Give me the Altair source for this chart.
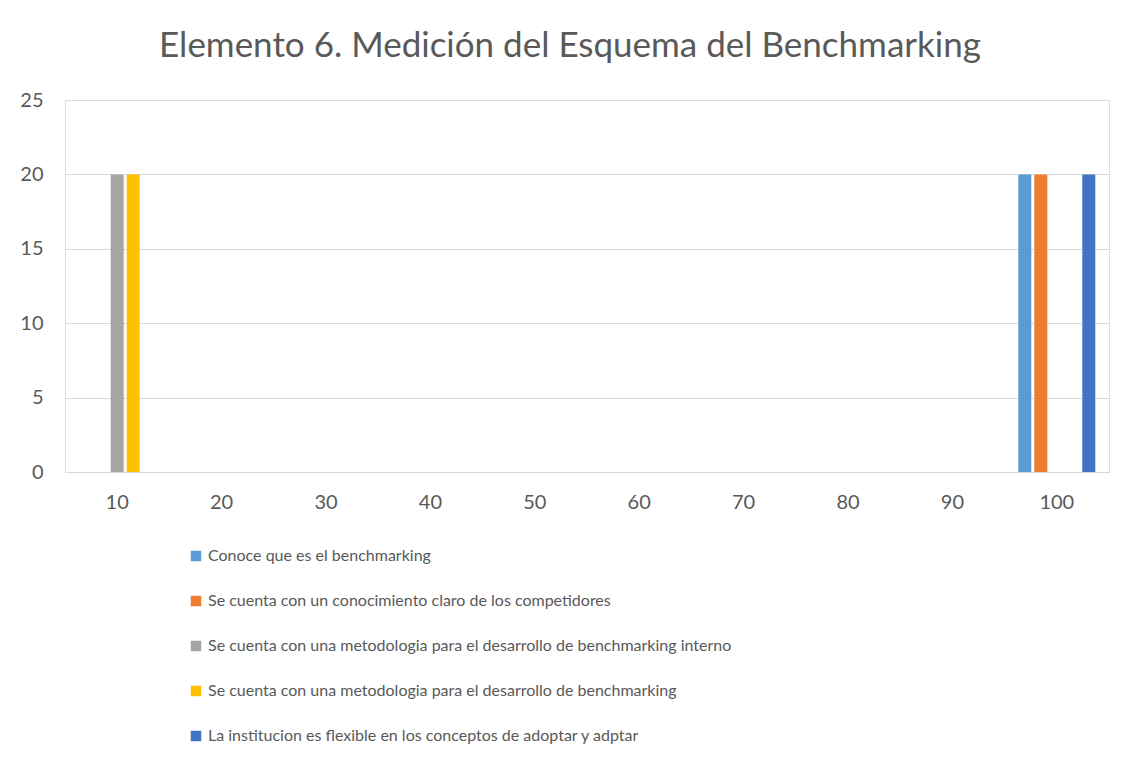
import altair as alt
import pandas as pd

categories = [10, 20, 30, 40, 50, 60, 70, 80, 90, 100]
series_names = [
    "Conoce que es el benchmarking",
    "Se cuenta con un conocimiento claro de los competidores",
    "Se cuenta con una metodologia para el desarrollo de benchmarking interno",
    "Se cuenta con una metodologia para el desarrollo de benchmarking",
    "La institucion es flexible en los conceptos de adoptar y adptar",
]
s1 = [0, 0, 0, 0, 0, 0, 0, 0, 0, 20]
s2 = [0, 0, 0, 0, 0, 0, 0, 0, 0, 20]
s3 = [20, 0, 0, 0, 0, 0, 0, 0, 0, 0]
s4 = [20, 0, 0, 0, 0, 0, 0, 0, 0, 0]
s5 = [0, 0, 0, 0, 0, 0, 0, 0, 0, 20]
colors = ["#5B9BD5", "#ED7D31", "#A5A5A5", "#FFC000", "#4472C4"]

rows = []
for name, vals in zip(series_names, [s1, s2, s3, s4, s5]):
    for c, v in zip(categories, vals):
        rows.append({"cat": c, "series": name, "value": v})
df = pd.DataFrame(rows)

FONT = "Lato, sans-serif"
GREY = "#595959"

chart = (
    alt.Chart(df)
    .mark_bar()
    .encode(
        x=alt.X(
            "cat:O",
            sort=categories,
            scale=alt.Scale(paddingInner=0.234, paddingOuter=0.117),
            axis=alt.Axis(
                title=None, labelAngle=0, ticks=False, domainColor="#D9D9D9",
                domainWidth=1, labelPadding=20, labelFontSize=20,
                labelColor=GREY, labelFont=FONT,
            ),
        ),
        xOffset=alt.XOffset(
            "series:N", sort=series_names,
            scale=alt.Scale(paddingInner=0.1875, paddingOuter=0.09375),
        ),
        y=alt.Y(
            "value:Q",
            scale=alt.Scale(domain=[0, 25]),
            axis=alt.Axis(
                title=None, values=[0, 5, 10, 15, 20, 25], ticks=False,
                domain=False, gridColor="#D9D9D9", gridWidth=1,
                labelPadding=22, labelFontSize=20, labelColor=GREY,
                labelFont=FONT,
            ),
        ),
        color=alt.Color(
            "series:N",
            sort=series_names,
            scale=alt.Scale(domain=series_names, range=colors),
            legend=alt.Legend(
                title=None, orient="none", legendX=123, legendY=448,
                direction="vertical", symbolType="square", symbolSize=110,
                symbolStrokeWidth=0, labelFontSize=16, labelColor=GREY,
                labelFont=FONT, labelLimit=1000, rowPadding=29,
                labelOffset=4, padding=0,
            ),
        ),
    )
    .properties(
        width=1044,
        height=372,
        title=alt.TitleParams(
            "Elemento 6. Medición del Esquema del Benchmarking",
            fontSize=35, font=FONT, color=GREY, fontWeight="normal",
            anchor="middle", dx=-17, dy=14, offset=40,
        ),
        autosize=alt.AutoSizeParams(type="none"),
        padding={"left": 57, "top": 92, "right": 22, "bottom": 289},
    )
    .configure_view(stroke=None)
    .configure(background="white")
)

chart.save("out.html", embed_options={"renderer": "svg", "actions": False})
